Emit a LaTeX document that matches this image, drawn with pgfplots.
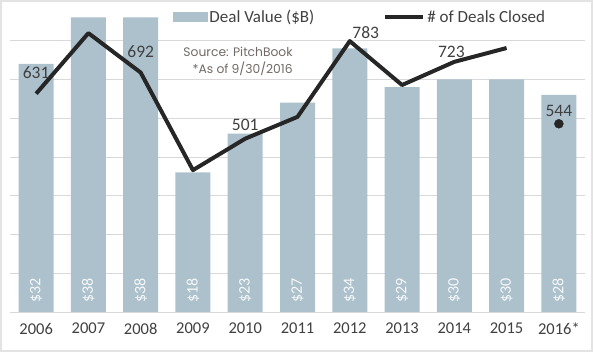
\documentclass[border=0pt]{standalone}
\usepackage{pgfplots}
\pgfplotsset{compat=1.18}
\usepackage{pgfplotstable}
\usepackage{fontspec}
\setmainfont{Carlito}
\newfontfamily\srcfont{Poppins}
\definecolor{barcol}{HTML}{ADC1CD}
\definecolor{linecol}{HTML}{262626}
\definecolor{txt}{HTML}{404040}
\definecolor{gridc}{HTML}{D9D9D9}
\definecolor{srcc}{HTML}{706A66}

\pgfplotstableread{
x val
0 32
1 38
2 38
3 18
4 23
5 27
6 34
7 29
8 30
9 30
10 28
}\bars

\pgfplotstableread{
x deals
0 631
1 806
2 692
3 410
4 501
5 564
6 783
7 656
8 723
9 763
}\deals

\pgfplotstableread{
x deals dx dy
0 631 0 21
2 692 0 21
4 501 0 14
6 783 16 9
8 723 -3 10
10 544 0 13
}\dlabels

\begin{document}
\begin{tikzpicture}
\useasboundingbox (-10pt,-40pt) rectangle (583pt,312pt);
\draw[gray!22, line width=2pt] (-9pt,-39pt) rectangle (582pt,311pt);
\begin{axis}[
  scale only axis, width=575pt, height=310pt,
  xmin=-0.5, xmax=10.5, ymin=0, ymax=40,
  axis x line*=bottom, axis y line*=left,
  x axis line style={draw=gridc, line width=0.8pt, -},
  y axis line style={draw=none},
  ytick={5,10,...,35}, yticklabels={}, ytick style={draw=none},
  ymajorgrids, grid style={draw=gridc, line width=0.8pt},
  xtick=data, xtick style={draw=none},
  xticklabels={2006,2007,2008,2009,2010,2011,2012,2013,2014,2015,2016*},
  xticklabel style={anchor=north, inner sep=0pt, yshift=-11pt, font=\fontsize{16.5}{18}\selectfont, text=txt},
  /pgf/number format/assume math mode=true,
]
\addplot[ybar, bar width=35pt, fill=barcol, draw=none] table[x=x, y=val] {\bars};
\addplot[draw=none, mark=none,
  nodes near coords={\$\pgfmathprintnumber{\pgfplotspointmeta}},
  point meta=explicit,
  nodes near coords style={yshift=9pt, rotate=90, anchor=west, inner sep=0pt, text=white!88!barcol, font=\fontsize{16}{17}\selectfont}]
  table[x=x, y expr=0, meta=val] {\bars};
\end{axis}
\begin{axis}[
  scale only axis, width=575pt, height=310pt,
  xmin=-0.5, xmax=10.5, ymin=0, ymax=896,
  hide axis,
  /pgf/number format/assume math mode=true,
  legend columns=2,
  legend style={at={(0.278,0.952)}, anchor=west, draw=none, fill=none,
    font=\fontsize{17}{18}\selectfont, text=txt,
    nodes={inner xsep=2pt, inner ysep=0pt},
    /tikz/every odd column/.append style={column sep=0pt},
    /tikz/every even column/.append style={column sep=67pt}},
  legend cell align=left,
]
\addlegendimage{legend image code/.code={\fill[barcol] (0pt,-4.5pt) rectangle (34pt,4.5pt);}}
\addlegendentry{Deal Value (\$B)}
\addplot[linecol, line width=4pt, line join=round, mark=none,
  legend image code/.code={\draw[linecol, line width=4pt] (0pt,0pt) -- (38pt,0pt);}]
  table[x=x, y=deals] {\deals};
\addlegendentry{\# of Deals Closed}
\addplot[forget plot, only marks, mark=*, mark size=4.5pt, linecol] coordinates {(10,544)};
\addplot[forget plot, draw=none, mark=none,
  visualization depends on={\thisrow{dx} \as \ldx},
  visualization depends on={\thisrow{dy} \as \ldy},
  nodes near coords={\pgfmathprintnumber{\pgfplotspointmeta}},
  point meta=explicit,
  nodes near coords style={anchor=center, inner sep=0pt, xshift=\ldx pt, yshift=\ldy pt, text=txt, font=\fontsize{17.5}{18}\selectfont}]
  table[x=x, y=deals, meta=deals] {\dlabels};
\node[anchor=east, inner sep=0pt, text=srcc, font=\srcfont\fontsize{12.3}{13}\selectfont] at (rel axis cs:0.492,0.839) {Source: PitchBook};
\node[anchor=east, inner sep=0pt, text=srcc, font=\srcfont\fontsize{12.3}{13}\selectfont] at (rel axis cs:0.492,0.784) {*As of 9/30/2016};
\end{axis}
\end{tikzpicture}
\end{document}
